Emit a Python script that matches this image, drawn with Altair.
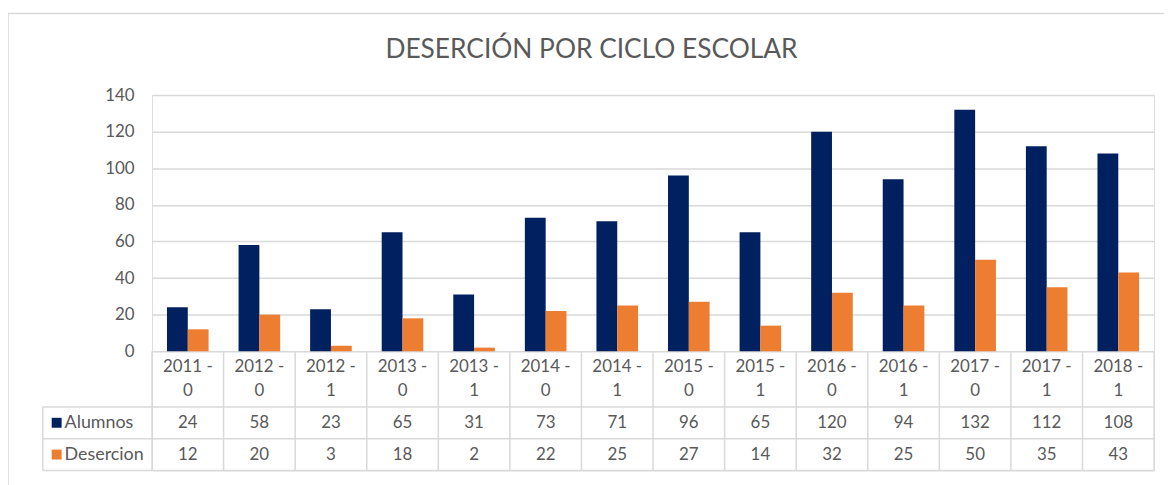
import altair as alt
import pandas as pd

# ---- data ----
periodos = ["2011", "2012", "2012", "2013", "2013", "2014", "2014",
            "2015", "2015", "2016", "2016", "2017", "2017", "2018"]
turnos = ["0", "0", "1", "0", "1", "0", "1", "0", "1", "0", "1", "0", "1", "1"]
alumnos = [24, 58, 23, 65, 31, 73, 71, 96, 65, 120, 94, 132, 112, 108]
desercion = [12, 20, 3, 18, 2, 22, 25, 27, 14, 32, 25, 50, 35, 43]
series = ["Alumnos", "Desercion"]
colores = ["#002060", "#ED7D31"]
y_ticks = [0, 20, 40, 60, 80, 100, 120, 140]
titulo = "DESERCIÓN POR CICLO ESCOLAR"

ciclos = [f"{p} - {t}" for p, t in zip(periodos, turnos)]

# ---- style ----
W, H = 1009, 378
BAR_H = 258
FONT = "Lato"
TXT = "#595959"
GRID = "#D9D9D9"
FS = 17
FS_LBL = 18
LEFT_COL = -110

bars_df = pd.DataFrame({
    "ciclo": ciclos * 2,
    "serie": [series[0]] * len(ciclos) + [series[1]] * len(ciclos),
    "valor": alumnos + desercion,
})

rows = []
for c, p, t, a, d in zip(ciclos, periodos, turnos, alumnos, desercion):
    rows.append({"ciclo": c, "fila": "h1", "texto": p + " -"})
    rows.append({"ciclo": c, "fila": "h2", "texto": t})
    rows.append({"ciclo": c, "fila": series[0], "texto": str(a)})
    rows.append({"ciclo": c, "fila": series[1], "texto": str(d)})
tab_df = pd.DataFrame(rows)
head1_df = tab_df[tab_df.fila == "h1"]
rest_df = tab_df[tab_df.fila != "h1"]
ser_df = pd.DataFrame({"serie": series, "fila": series})
cic_df = pd.DataFrame({"ciclo": ciclos})
one_df = pd.DataFrame({"fila": [series[-1]]})

x_scale = alt.Scale(domain=ciclos, paddingInner=0, paddingOuter=0)
y_bar = alt.Scale(domain=[0, 140], range=[BAR_H, 0])
filas = ["h1", "h2"] + series
y_tab = alt.Scale(domain=filas, range=[BAR_H - 8, H], paddingInner=0, paddingOuter=0)
color = alt.Color("serie:N", scale=alt.Scale(domain=series, range=colores), legend=None)
X = alt.X("ciclo:N", scale=x_scale, axis=None)

bar_layer = alt.Chart(bars_df).mark_bar().encode(
    x=X,
    xOffset=alt.XOffset("serie:N", scale=alt.Scale(domain=series, paddingInner=0, paddingOuter=0.72)),
    y=alt.Y("valor:Q", scale=y_bar,
            axis=alt.Axis(values=y_ticks, grid=True, gridColor=GRID, gridWidth=1.5,
                          domain=False, ticks=False, labelPadding=18, labelFont=FONT,
                          labelFontSize=FS, labelColor=TXT, title=None)),
    color=color,
)

Ytab = alt.Y("fila:N", scale=y_tab, axis=None)

txt_head1 = alt.Chart(head1_df).mark_text(font=FONT, fontSize=FS, color=TXT, dy=8).encode(
    x=X, y=Ytab, text="texto:N")
txt_rest = alt.Chart(rest_df).mark_text(font=FONT, fontSize=FS, color=TXT).encode(
    x=X, y=Ytab, text="texto:N")

hrules_top = alt.Chart(ser_df).mark_rule(color=GRID, strokeWidth=1.5).encode(
    y=alt.Y("fila:N", scale=y_tab, axis=None, bandPosition=0),
    x=alt.value(LEFT_COL), x2=alt.value("width"))
hrule_bottom = alt.Chart(one_df).mark_rule(color=GRID, strokeWidth=1.5).encode(
    y=alt.Y("fila:N", scale=y_tab, axis=None, bandPosition=1),
    x=alt.value(LEFT_COL), x2=alt.value("width"))
vrules = alt.Chart(cic_df).mark_rule(color=GRID, strokeWidth=1.5).encode(
    x=alt.X("ciclo:N", scale=x_scale, axis=None, bandPosition=0),
    y=alt.Y(datum="h1", type="nominal", scale=y_tab, axis=None, bandPosition=0.25),
    y2=alt.value("height"))
vrule_right = alt.Chart(one_df).mark_rule(color=GRID, strokeWidth=1.5).encode(
    x=alt.value("width"),
    y=alt.Y(datum="h1", type="nominal", scale=y_tab, axis=None, bandPosition=0.25),
    y2=alt.value("height"))
vrule_left = alt.Chart(ser_df.head(1)).mark_rule(color=GRID, strokeWidth=1.5).encode(
    x=alt.value(LEFT_COL),
    y=alt.Y("fila:N", scale=y_tab, axis=None, bandPosition=0),
    y2=alt.value("height"))

squares = alt.Chart(ser_df).mark_square(size=100, opacity=1).encode(
    x=alt.value(LEFT_COL + 14), y=Ytab, color=color)
labels = alt.Chart(ser_df).mark_text(font=FONT, fontSize=FS_LBL, color=TXT, align="left").encode(
    x=alt.value(LEFT_COL + 22), y=Ytab, text="serie:N")

frame = alt.Chart(one_df).mark_rect(filled=False, stroke=GRID, strokeWidth=1.5).encode(
    x=alt.value(-145), x2=alt.value(W + 40), y=alt.value(-82), y2=alt.value(H + 40))

table = alt.layer(frame, hrules_top, hrule_bottom, vrules, vrule_right, vrule_left,
                  txt_head1, txt_rest, squares, labels)

chart = alt.layer(bar_layer, table).resolve_scale(y="independent").properties(
    width=W, height=H,
    title=alt.TitleParams(text=titulo, font=FONT, fontSize=26.5, fontWeight="normal",
                          color=TXT, anchor="middle", frame="group", dx=-62, offset=-51),
    autosize=alt.AutoSizeParams(type="none"),
    padding={"left": 145, "top": 86, "right": 10, "bottom": 13},
).configure_view(stroke=None).configure(background="white")

chart.save("out.html", embed_options={"renderer": "svg", "actions": False})
